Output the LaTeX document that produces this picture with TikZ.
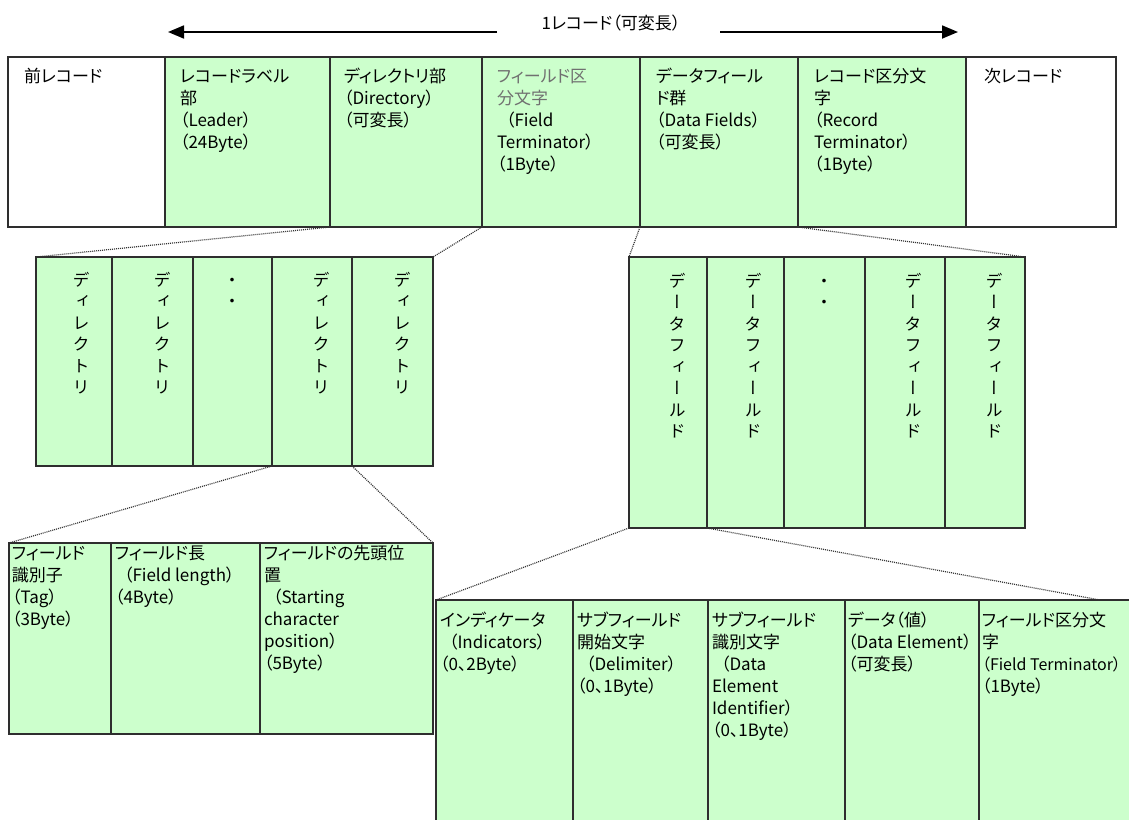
\documentclass[tikz,border=0pt]{standalone}
\usepackage{fontspec}
\setmainfont[RawFeature=+palt]{Noto Sans CJK JP}
\newfontfamily\vjp[RawFeature=+vert]{Noto Sans CJK JP}
\usetikzlibrary{arrows.meta}
\definecolor{cellgreen}{HTML}{CCFFCC}
\definecolor{edgecol}{HTML}{2E2E2E}
\definecolor{termgray}{HTML}{707070}
\newcommand\cellfont{\fontsize{17}{22}\selectfont}
\newcommand\vertfont{\vjp\fontsize{17}{21.5}\selectfont}
\begin{document}
\begin{tikzpicture}[x=1pt,y=-1pt,
  cell/.style={draw=edgecol,line width=1.3pt,fill=cellgreen,inner sep=0pt,outer sep=0pt,anchor=north west},
  wcell/.style={cell,fill=white},
  txt/.style={anchor=north west,inner sep=0pt,outer sep=0pt,align=left,font=\cellfont},
  vtxt/.style={anchor=north,inner sep=0pt,outer sep=0pt,align=center,font=\vertfont},
  link/.style={draw=black!80,dash pattern=on 1pt off 1pt,line width=1.2pt},
  arr/.style={draw=black,line width=1.8pt,-{Triangle[length=16pt,width=13pt]}},
]
\useasboundingbox (0,0) rectangle (1129,819);
\clip (0,0) rectangle (1129,819);

% ---- top arrow and label
\node[font=\cellfont,inner sep=0pt] (rec) at (611,23) {1レコード（可変長）};
\coordinate (aL0) at (497,32);
\coordinate (aL1) at (168,32);
\coordinate (aR0) at (720,32);
\coordinate (aR1) at (958,32);
\draw[arr] (aL0) -- (aL1);
\draw[arr] (aR0) -- (aR1);

% ---- top row
\node[wcell,minimum width=157pt,minimum height=170pt] (t1) at (8,57) {};
\node[cell,minimum width=165pt,minimum height=170pt] (t2) at (165,57) {};
\node[cell,minimum width=152pt,minimum height=170pt] (t3) at (330,57) {};
\node[cell,minimum width=158pt,minimum height=170pt] (t4) at (482,57) {};
\node[cell,minimum width=158pt,minimum height=170pt] (t5) at (640,57) {};
\node[cell,minimum width=168pt,minimum height=170pt] (t6) at (798,57) {};
\node[wcell,minimum width=150pt,minimum height=170pt] (t7) at (966,57) {};

\node[txt] (t1x) at (24,67) {\strut 前レコード};
\node[txt] (t2x) at (180,67) {\strut レコードラベル\\部\\（Leader）\\（24Byte）};
\node[txt] (t3x) at (344,67) {\strut ディレクトリ部\\（Directory）\\（可変長）};
\node[txt] (t4x) at (497,67) {\strut\textcolor{termgray}{フィールド区}\\\textcolor{termgray}{分文字}\\\hspace*{9pt}（Field\\Terminator）\\（1Byte）};
\node[txt] (t5x) at (656,67) {\strut データフィール\\ド群\\（Data Fields）\\（可変長）};
\node[txt] (t6x) at (814,67) {\strut レコード区分文\\字\\（Record\\Terminator）\\（1Byte）};
\node[txt] (t7x) at (984,67) {\strut 次レコード};

% ---- directory row
\node[cell,minimum width=76pt,minimum height=209pt] (d1) at (36,257) {};
\node[cell,minimum width=81pt,minimum height=209pt] (d2) at (112,257) {};
\node[cell,minimum width=79pt,minimum height=209pt] (d3) at (193,257) {};
\node[cell,minimum width=80pt,minimum height=209pt] (d4) at (272,257) {};
\node[cell,minimum width=81pt,minimum height=209pt] (d5) at (352,257) {};

\node[vtxt] (d1x) at (81,271) {\strut デ\\ィ\\レ\\ク\\ト\\リ};
\node[vtxt] (d2x) at (162,271) {\strut デ\\ィ\\レ\\ク\\ト\\リ};
\node[vtxt] (d3x) at (232,271) {\strut ・\\・};
\node[vtxt] (d4x) at (321,271) {\strut デ\\ィ\\レ\\ク\\ト\\リ};
\node[vtxt] (d5x) at (402,271) {\strut デ\\ィ\\レ\\ク\\ト\\リ};

% ---- data field row
\node[cell,minimum width=78pt,minimum height=271pt] (f1) at (629,257) {};
\node[cell,minimum width=77pt,minimum height=271pt] (f2) at (707,257) {};
\node[cell,minimum width=81pt,minimum height=271pt] (f3) at (784,257) {};
\node[cell,minimum width=80pt,minimum height=271pt] (f4) at (865,257) {};
\node[cell,minimum width=80pt,minimum height=271pt] (f5) at (945,257) {};

\node[vtxt] (f1x) at (677,272) {\strut デ\\ー\\タ\\フ\\ィ\\ー\\ル\\ド};
\node[vtxt] (f2x) at (753,272) {\strut デ\\ー\\タ\\フ\\ィ\\ー\\ル\\ド};
\node[vtxt] (f3x) at (824,272) {\strut ・\\・};
\node[vtxt] (f4x) at (913,272) {\strut デ\\ー\\タ\\フ\\ィ\\ー\\ル\\ド};
\node[vtxt] (f5x) at (994,272) {\strut デ\\ー\\タ\\フ\\ィ\\ー\\ル\\ド};

% ---- directory detail row
\node[cell,minimum width=102pt,minimum height=191pt] (s1) at (9,543) {};
\node[cell,minimum width=149pt,minimum height=191pt] (s2) at (111,543) {};
\node[cell,minimum width=173pt,minimum height=191pt] (s3) at (260,543) {};

\node[txt] (s1x) at (12,544) {\strut フィールド\\識別子\\（Tag）\\（3Byte）};
\node[txt] (s2x) at (115,544) {\strut フィールド長\\\hspace*{9pt}（Field length）\\（4Byte）};
\node[txt] (s3x) at (264,544) {\strut フィールドの先頭位\\置\\\hspace*{9pt}（Starting\\character\\position）\\（5Byte）};

% ---- data field detail row
\node[cell,minimum width=137pt,minimum height=240pt] (e1) at (436,600) {};
\node[cell,minimum width=135pt,minimum height=240pt] (e2) at (573,600) {};
\node[cell,minimum width=137pt,minimum height=240pt] (e3) at (708,600) {};
\node[cell,minimum width=134pt,minimum height=240pt] (e4) at (845,600) {};
\node[cell,minimum width=170pt,minimum height=240pt] (e5) at (979,600) {};
\coordinate (e5end) at (1100,600);

\node[txt] (e1x) at (440,611) {\strut インディケータ\\\hspace*{9pt}（Indicators）\\（0、2Byte）};
\node[txt] (e2x) at (577,611) {\strut サブフィールド\\開始文字\\\hspace*{9pt}（Delimiter）\\（0、1Byte）};
\node[txt] (e3x) at (712,611) {\strut サブフィールド\\識別文字\\\hspace*{9pt}（Data\\Element\\Identifier）\\（0、1Byte）};
\node[txt] (e4x) at (848,611) {\strut データ（値）\\（Data Element）\\（可変長）};
\node[txt] (e5x) at (982,611) {\strut フィールド区分文\\字\\{\fontsize{16}{22}\selectfont（Field Terminator）}\\（1Byte）};

% ---- dotted connectors
\draw[link] (t2.south east) -- (d1.north west);
\draw[link] (t3.south east) -- (d5.north east);
\draw[link] (t4.south east) -- (f1.north west);
\draw[link] (t5.south east) -- (f5.north east);
\draw[link] (d4.south west) -- (s1.north west);
\draw[link] (d4.south east) -- (s3.north east);
\draw[link] (f1.south west) -- (e1.north west);
\draw[link] (f1.south east) -- (e5end);
\end{tikzpicture}
\end{document}
